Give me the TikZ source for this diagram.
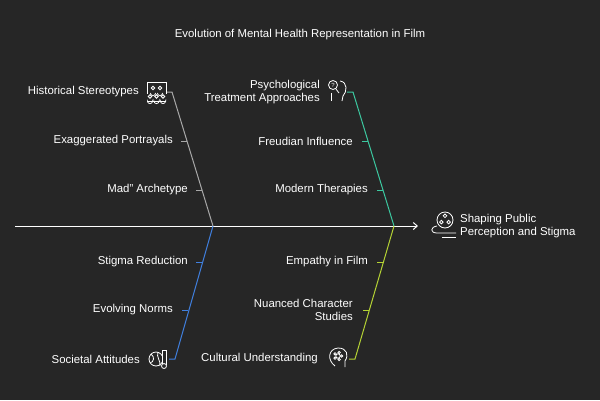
\documentclass[tikz,border=0pt]{standalone}
\usepackage{fontspec}
\setmainfont{Liberation Sans}
\usetikzlibrary{arrows.meta}
\definecolor{bg}{HTML}{262626}
\definecolor{cgray}{HTML}{A8A8A8}
\definecolor{cteal}{HTML}{3CC8A0}
\definecolor{cblue}{HTML}{4080E0}
\definecolor{clime}{HTML}{B4D234}
\begin{document}
\begin{tikzpicture}[x=1pt,y=-1pt,
  lbl/.style={text=white,font=\fontsize{11.4}{13.5}\selectfont,inner sep=0pt},
  lblr/.style={lbl,anchor=east,align=right},
  bone/.style={line width=1pt},
  ico/.style={white,line width=0.8pt}]
\fill[bg] (0,0) rectangle (600,400);
\useasboundingbox (0,0) rectangle (600,400);
\node[lbl] (title) at (300,35) {Evolution of Mental Health Representation in Film};
% spine
\coordinate (s0) at (15,226);
\coordinate (s1) at (418,226);
\draw[white,line width=1pt,-{Straight Barb[length=4pt,width=7pt]}] (s0) -- (s1);
% bones
\coordinate (g0) at (213,226); \coordinate (g1) at (172,92);
\draw[cgray,bone] (g0) -- (g1) -- (167,92);
\draw[cgray,bone] (181,141) -- (187,141);
\draw[cgray,bone] (196,190) -- (202,190);
\coordinate (t0) at (394,226); \coordinate (t1) at (353,92);
\draw[cteal,bone] (t0) -- (t1) -- (347,92);
\draw[cteal,bone] (362,141) -- (368,141);
\draw[cteal,bone] (377,190) -- (383,190);
\coordinate (b0) at (213,226); \coordinate (b1) at (175,359);
\draw[cblue,bone] (b0) -- (b1) -- (169,359);
\draw[cblue,bone] (196,262) -- (202,262);
\draw[cblue,bone] (182,310) -- (188,310);
\coordinate (l0) at (394,226); \coordinate (l1) at (355,359);
\draw[clime,bone] (l0) -- (l1) -- (349,359);
\draw[clime,bone] (377,262) -- (383,262);
\draw[clime,bone] (363,310) -- (369,310);
% labels
\node[lblr] (a1) at (139,92) {Historical Stereotypes};
\node[lblr] (a2) at (173,141) {Exaggerated Portrayals};
\node[lblr] (a3) at (188,190) {Mad" Archetype};
\node[lblr] (c1) at (320,92) {Psychological\\Treatment Approaches};
\node[lblr] (c2) at (353,141) {Freudian Influence};
\node[lblr] (c3) at (368,190) {Modern Therapies};
\node[lblr] (d1) at (188,262) {Stigma Reduction};
\node[lblr] (d2) at (173,310) {Evolving Norms};
\node[lblr] (d3) at (140,359) {Societal Attitudes};
\node[lblr] (e1) at (368,262) {Empathy in Film};
\node[lblr] (e2) at (353,310) {Nuanced Character\\Studies};
\node[lblr] (e3) at (318,359) {Cultural Understanding};
\node[lbl,anchor=west,align=left] (head) at (460,226) {Shaping Public\\Perception and Stigma};
% icons
\begin{scope}[ico]
 % stereotypes: board with people
 \draw (147,82) -- (147,94) (166,94) -- (166,82) -- (147,82);
 \foreach \x in {153,160}{\draw (\x,88) circle (1.7); \draw (\x-2.6,93) arc (180:0:2.6);}
 \foreach \x in {150,156.5,163}{\draw (\x,96.5) circle (1.7); \draw (\x-2.6,101.5) -- (\x-2.6,101) arc (180:0:2.6) -- (\x+2.6,101.5);}
 \draw (147,101.5) -- (166,101.5);
 % psych head
 \draw (333,85) circle (4.5);
 \node[white,font=\fontsize{6}{6}\selectfont,inner sep=0] at (333,85) {?};
 \draw (336,89) -- (339,93);
 \draw (340,81) .. controls (348,82) and (347,92) .. (343,96) -- (342,101);
 \draw (331,93) -- (331,101);
 % societal: globe + thermometer
 \draw (156,359) circle (7);
 \draw (151,354) .. controls (155,357) and (154,362) .. (150,363);
 \draw (158,352) .. controls (156,357) and (161,361) .. (160,366);
 \draw[fill=bg] (162,350) rectangle (166,364);
 \draw[fill=bg] (164,366) circle (2.5);
 % cultural head with flower
 \draw (335,366) .. controls (327,360) and (328,349) .. (338,348) .. controls (347,348) and (349,355) .. (345,361) -- (345,367);
 \draw (338,356) circle (2.2);
 \foreach \a in {0,72,...,288}{\draw (338,356) ++(\a:3.6) circle (1.2);}
 % film reel
 \draw (445,220) circle (8);
 \foreach \a in {30,150,270}{\draw (445,220) ++(\a:4.2) circle (1.8);}
 \draw (437,226) .. controls (430,227) and (430,233) .. (437,233) -- (456,233);
 \draw (442,237) -- (456,237);
\end{scope}
\end{tikzpicture}
\end{document}
